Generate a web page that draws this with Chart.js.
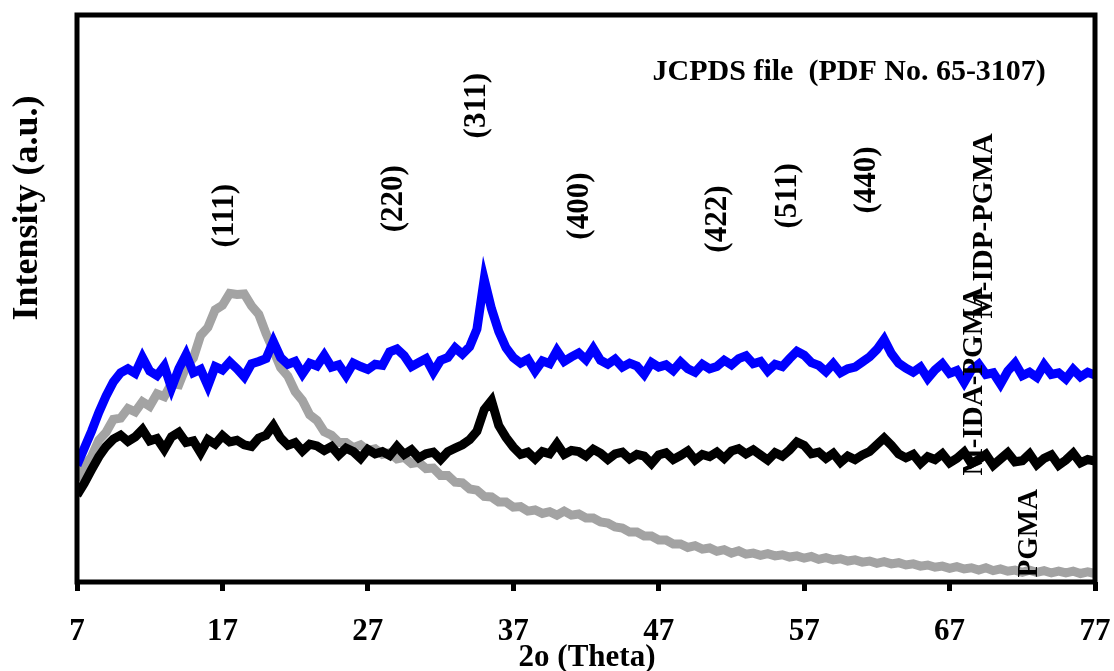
<!DOCTYPE html>
<html>
<head>
<meta charset="utf-8">
<title>XRD patterns</title>
<script src="https://cdn.jsdelivr.net/npm/chart.js@4.4.1/dist/chart.umd.min.js"></script>
<style>
  html, body { margin: 0; padding: 0; background: #fff; }
  #wrap { position: relative; width: 1114px; height: 671px; }
</style>
</head>
<body>
<div id="wrap"><canvas id="chart"></canvas></div>
<script>
// 2-theta sampling grid (degrees)
const twoTheta = [
  7, 7.5, 8, 8.5, 9, 9.5, 10, 10.5, 11, 11.5, 12, 12.5, 13, 13.5, 14, 14.5, 15, 15.5, 16, 16.5,
  17, 17.5, 18, 18.5, 19, 19.5, 20, 20.5, 21, 21.5, 22, 22.5, 23, 23.5, 24, 24.5, 25, 25.5, 26, 26.5,
  27, 27.5, 28, 28.5, 29, 29.5, 30, 30.5, 31, 31.5, 32, 32.5, 33, 33.5, 34, 34.5, 35, 35.5, 36, 36.5,
  37, 37.5, 38, 38.5, 39, 39.5, 40, 40.5, 41, 41.5, 42, 42.5, 43, 43.5, 44, 44.5, 45, 45.5, 46, 46.5,
  47, 47.5, 48, 48.5, 49, 49.5, 50, 50.5, 51, 51.5, 52, 52.5, 53, 53.5, 54, 54.5, 55, 55.5, 56, 56.5,
  57, 57.5, 58, 58.5, 59, 59.5, 60, 60.5, 61, 61.5, 62, 62.5, 63, 63.5, 64, 64.5, 65, 65.5, 66, 66.5,
  67, 67.5, 68, 68.5, 69, 69.5, 70, 70.5, 71, 71.5, 72, 72.5, 73, 73.5, 74, 74.5, 75, 75.5, 76, 76.5,
  77
];

// M-IDP-PGMA (blue)
const idpPgma = [
  20.6, 23.6, 26.6, 29.9, 32.8, 35.3, 36.9, 37.6, 36.8, 39.6, 37.2, 36.4, 38.1, 34.2, 37.6, 40.1, 36.9, 37.5, 34.6, 38.0,
  37.4, 38.8, 37.6, 36.2, 38.5, 38.9, 39.4, 42.4, 39.6, 38.4, 38.9, 36.7, 38.6, 38.1, 40.0, 37.9, 38.3, 36.4, 38.6, 38.0,
  37.5, 38.4, 38.2, 40.6, 41.1, 39.9, 38.0, 38.7, 39.4, 37.0, 39.1, 39.6, 41.3, 40.2, 41.5, 44.6, 53.4, 48.2, 44.2, 41.3,
  39.6, 38.6, 39.3, 37.2, 39.0, 38.5, 40.8, 38.9, 39.7, 40.4, 39.2, 41.2, 39.1, 38.4, 39.3, 37.9, 38.6, 38.1, 36.6, 38.7,
  37.9, 38.3, 37.3, 38.8, 37.6, 37.0, 38.4, 37.6, 38.0, 39.1, 38.3, 39.4, 39.9, 38.5, 38.9, 37.2, 38.4, 38.0, 39.4, 40.7,
  40.0, 38.7, 38.2, 37.1, 38.5, 36.9, 37.6, 37.9, 38.8, 39.7, 41.0, 42.8, 40.3, 38.6, 37.7, 37.0, 37.9, 35.9, 37.4, 38.5,
  36.8, 37.3, 35.2, 37.4, 38.4, 36.6, 36.9, 34.9, 37.2, 38.6, 36.4, 37.0, 36.1, 38.3, 36.6, 36.9, 35.8, 37.5, 36.2, 37.0,
  36.5
];

// M-IDA-PGMA (black)
const idaPgma = [
  15.3, 17.4, 19.8, 22.1, 23.9, 25.2, 25.9, 24.8, 25.6, 26.9, 24.9, 25.3, 23.4, 25.6, 26.4, 24.6, 24.9, 22.8, 25.1, 24.3,
  25.8, 24.7, 25.0, 24.2, 23.9, 25.4, 25.9, 27.6, 25.4, 24.1, 24.6, 23.1, 24.3, 24.0, 23.2, 23.9, 22.4, 23.6, 23.0, 21.8,
  23.4, 22.6, 23.0, 22.3, 23.9, 22.5, 23.3, 21.9, 22.6, 22.9, 21.6, 23.0, 23.6, 24.2, 25.1, 26.6, 30.4, 32.0, 27.6, 25.5,
  23.8, 22.5, 22.9, 21.7, 23.0, 22.6, 24.4, 22.5, 23.2, 23.0, 22.2, 23.4, 22.7, 21.6, 22.6, 22.9, 21.7, 22.5, 22.2, 20.9,
  22.4, 22.8, 21.6, 22.3, 23.1, 21.5, 22.5, 22.1, 22.9, 21.8, 23.1, 23.5, 22.6, 23.3, 22.4, 21.5, 22.8, 22.2, 23.3, 24.7,
  24.1, 22.6, 22.9, 21.8, 22.7, 21.1, 22.2, 21.6, 22.4, 23.0, 24.2, 25.4, 24.1, 22.6, 21.9, 22.5, 20.9, 22.1, 21.6, 22.6,
  21.0, 21.8, 22.9, 20.9, 21.6, 22.5, 20.6, 21.7, 22.8, 21.2, 21.4, 22.6, 20.7, 21.8, 22.4, 20.6, 21.5, 22.7, 21.0, 21.6,
  21.3
];

// PGMA (grey)
const pgma = [
  18.0, 20.4, 22.1, 25.0, 26.4, 28.7, 28.9, 30.6, 30.0, 31.8, 31.0, 33.2, 32.7, 35.0, 34.8, 38.0, 39.5, 43.5, 44.9, 48.0,
  48.8, 50.9, 50.7, 50.8, 48.7, 47.2, 43.8, 40.9, 37.8, 36.3, 33.6, 32.0, 29.5, 28.5, 26.5, 25.9, 24.6, 24.6, 23.7, 24.2,
  23.2, 23.5, 22.5, 22.8, 21.7, 22.0, 20.9, 21.1, 20.0, 20.1, 18.8, 18.8, 17.6, 17.5, 16.4, 16.2, 15.1, 15.0, 14.1, 14.1,
  13.2, 13.3, 12.5, 12.7, 12.1, 12.4, 11.8, 12.5, 11.8, 12.0, 11.3, 11.3, 10.6, 10.4, 9.7, 9.5, 8.8, 8.8, 8.1, 8.1,
  7.4, 7.4, 6.7, 6.7, 6.1, 6.4, 5.8, 6.0, 5.4, 5.7, 5.1, 5.5, 4.9, 5.1, 4.7, 5.0, 4.6, 4.8, 4.4, 4.6,
  4.2, 4.5, 4.0, 4.3, 3.9, 4.1, 3.7, 3.9, 3.5, 3.7, 3.3, 3.6, 3.2, 3.4, 3.0, 3.2, 2.8, 3.0, 2.6, 2.8,
  2.4, 2.7, 2.3, 2.5, 2.1, 2.5, 2.0, 2.3, 1.9, 2.1, 1.7, 2.1, 1.7, 2.0, 1.6, 1.9, 1.6, 1.9, 1.5, 1.8,
  1.5
];

// JCPDS reflections
const hklNames = ['(111)', '(220)', '(311)', '(400)', '(422)', '(511)', '(440)'];
const hklAngles = [17.2, 28.8, 34.5, 41.6, 51.1, 55.9, 61.3];

const xTicks = [7, 17, 27, 37, 47, 57, 67, 77];

const serif = '"Liberation Serif", "Times New Roman", serif';

function points(ys) {
  return ys.map((v, i) => ({ x: twoTheta[i], y: v }));
}

// text, frame and labels on top of the traces
const annotate = {
  id: 'annotate',
  afterDatasetsDraw(chart) {
    const { ctx, chartArea: a, scales: { x, y } } = chart;
    ctx.save();
    ctx.fillStyle = '#000';
    ctx.textAlign = 'center';
    ctx.textBaseline = 'middle';

    const vtext = (txt, px, py, font) => {
      ctx.save();
      ctx.font = font;
      ctx.translate(px, py);
      ctx.rotate(-Math.PI / 2);
      ctx.fillText(txt, 0, 0);
      ctx.restore();
    };

    // reflection indices, stacked at different heights
    const hklLevel = [64.6, 67.6, 84.0, 66.3, 64.0, 68.1, 70.9];
    hklNames.forEach((n, i) => {
      vtext(n, x.getPixelForValue(hklAngles[i]), y.getPixelForValue(hklLevel[i]), 'bold 31px ' + serif);
    });

    // series names
    vtext('M-IDP-PGMA', x.getPixelForValue(69.4), y.getPixelForValue(62.8), 'bold 29px ' + serif);
    vtext('M-IDA-PGMA', x.getPixelForValue(68.7), y.getPixelForValue(35.4), 'bold 29px ' + serif);
    vtext('PGMA', x.getPixelForValue(72.5), y.getPixelForValue(8.6), 'bold 29px ' + serif);

    ctx.font = 'bold 30px ' + serif;
    ctx.fillText('JCPDS file  (PDF No. 65-3107)', x.getPixelForValue(60.1), y.getPixelForValue(89.9));

    // axis titles
    vtext('Intensity (a.u.)', 28, 208, 'bold 36px ' + serif);
    ctx.font = 'bold 31px ' + serif;
    ctx.fillText('2o (Theta)', 587, 658);

    // plot frame
    ctx.strokeStyle = '#000';
    ctx.lineWidth = 5;
    ctx.strokeRect(a.left, a.top, a.right - a.left, a.bottom - a.top);
    ctx.restore();
  }
};

const lineStyle = {
  pointRadius: 0,
  tension: 0,
  borderWidth: 9,
  borderJoinStyle: 'miter',
  fill: false
};

new Chart(document.getElementById('chart'), {
  type: 'line',
  data: {
    datasets: [
      { label: 'M-IDP-PGMA', data: points(idpPgma), borderColor: '#0000ff', ...lineStyle },
      { label: 'M-IDA-PGMA', data: points(idaPgma), borderColor: '#000000', ...lineStyle },
      { label: 'PGMA', data: points(pgma), borderColor: '#a3a3a3', ...lineStyle }
    ]
  },
  options: {
    responsive: true,
    maintainAspectRatio: false,
    animation: false,
    events: [],
    layout: { padding: { left: 77, right: 19, top: 15, bottom: 0 } },
    plugins: { legend: { display: false }, tooltip: { enabled: false } },
    scales: {
      x: {
        type: 'linear',
        min: 7,
        max: 77,
        afterBuildTicks: (s) => { s.ticks = xTicks.map(v => ({ value: v })); },
        afterFit: (s) => { s.height = 89; s.paddingLeft = 0; s.paddingRight = 0; },
        ticks: {
          color: '#000',
          padding: 22,
          maxRotation: 0,
          font: { family: serif, size: 31, weight: 'bold' }
        },
        grid: { drawOnChartArea: false, drawTicks: true, tickLength: 9, lineWidth: 5, color: '#000' },
        border: { display: false }
      },
      y: { display: false, min: 0, max: 100 }
    }
  },
  plugins: [annotate]
});
</script>
</body>
</html>
